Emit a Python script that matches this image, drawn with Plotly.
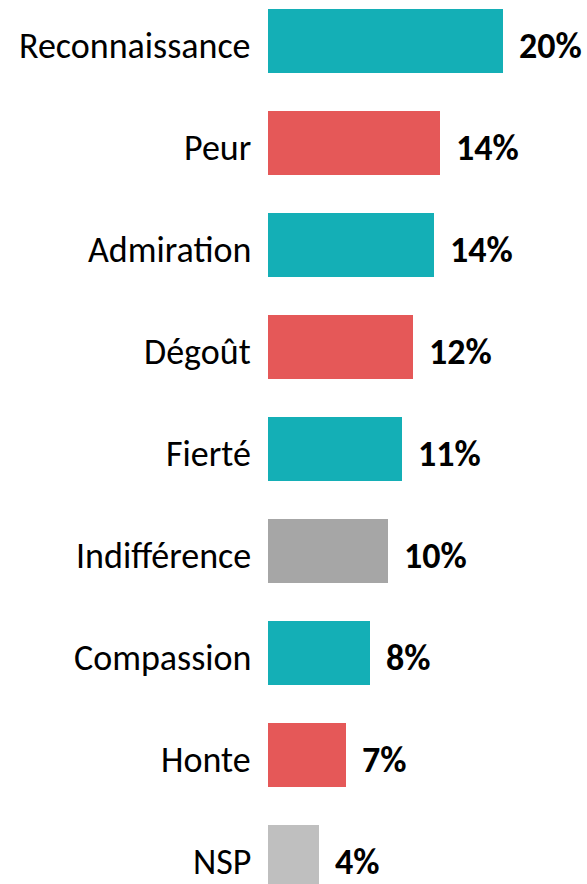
import plotly.graph_objects as go

# Données
emotions = ["Reconnaissance", "Peur", "Admiration", "Dégoût", "Fierté",
            "Indifférence", "Compassion", "Honte", "NSP"]
valeurs = [20.0, 14.6, 14.1, 12.3, 11.4, 10.2, 8.7, 6.6, 4.3]
etiquettes = ["20%", "14%", "14%", "12%", "11%", "10%", "8%", "7%", "4%"]
groupes = ["pos", "neg", "pos", "neg", "pos", "neutre", "pos", "neg", "nsp"]

COULEURS = {
    "pos": "#14AFB6",
    "neg": "#E55858",
    "neutre": "#A6A6A6",
    "nsp": "#BFBFBF",
}
FONT = "Carlito, Calibri, Lato, sans-serif"
TAILLE = 36

fig = go.Figure(go.Bar(
    x=valeurs,
    y=emotions,
    orientation="h",
    width=0.627,
    marker=dict(color=[COULEURS[g] for g in groupes], line=dict(width=0)),
    hoverinfo="skip",
))

# libellés à gauche, valeurs à droite (un peu sous le centre des barres, comme l'original)
for emo, val, lab in zip(emotions, valeurs, etiquettes):
    fig.add_annotation(
        x=0, y=emo, text=emo, showarrow=False,
        xanchor="right", xshift=-15, yshift=-5,
        font=dict(family=FONT, size=TAILLE, color="#000000"),
    )
    fig.add_annotation(
        x=val, y=emo, text=f"<b>{lab}</b>", showarrow=False,
        xanchor="left", xshift=14, yshift=-5,
        font=dict(family=FONT, size=TAILLE, color="#000000"),
    )

fig.update_layout(
    width=587, height=884,
    margin=dict(l=268, r=0, t=0, b=0),
    plot_bgcolor="white",
    paper_bgcolor="white",
    showlegend=False,
    bargap=0,
    font=dict(family=FONT, size=TAILLE, color="#000000"),
    xaxis=dict(range=[0, 27.15], visible=False, fixedrange=True),
    yaxis=dict(
        type="category",
        range=[8.265, -0.402],
        showgrid=False, zeroline=False, showline=False,
        ticks="", showticklabels=False, fixedrange=True,
    ),
)

fig.write_html("out.html", config={"displayModeBar": False},
               post_script="document.body.style.margin='0';")
